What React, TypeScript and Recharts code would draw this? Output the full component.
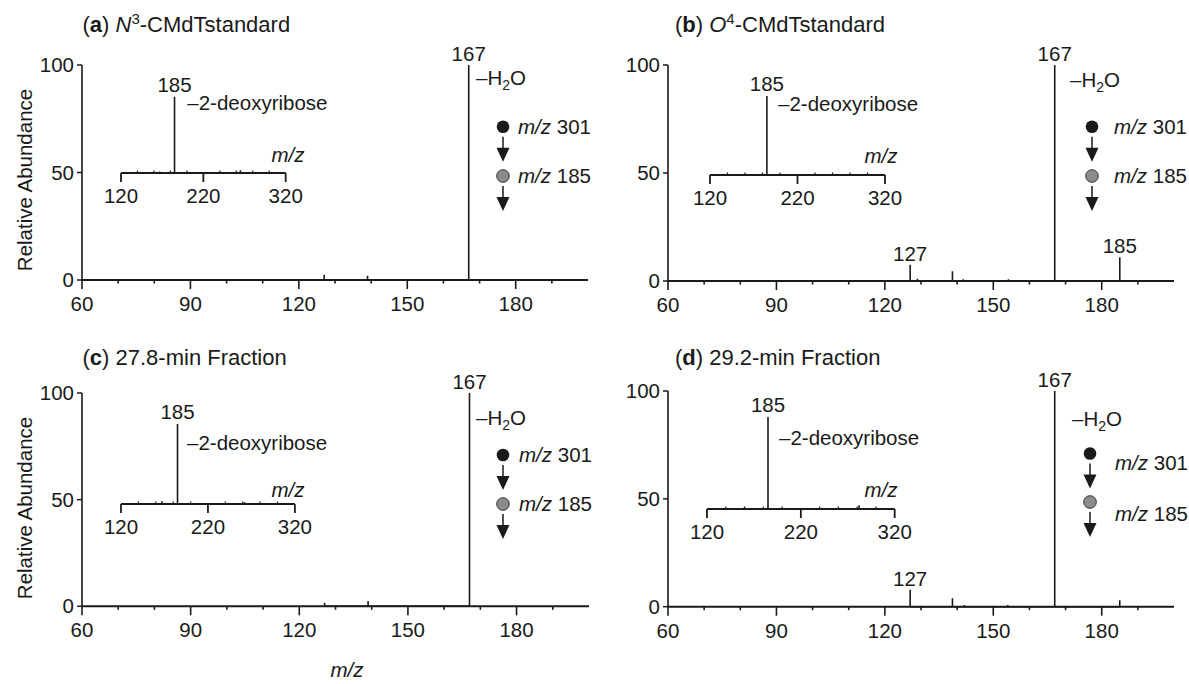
import { Line, LineChart, ReferenceDot, XAxis, YAxis } from "recharts";

const FONT = '"Liberation Sans", Arial, Helvetica, sans-serif';
const INK = "#1a1a1a";
const FS = 20.5;

// MS3 spectra (m/z 301 -> m/z 185 ->), relative abundance
const mzA = [127, 139, 167];
const relA = [2.5, 2, 100];
const mzB = [127, 129, 138.7, 141.7, 154.2, 167, 185];
const relB = [7.5, 1, 4.5, 0.8, 0.8, 100, 11];
const mzC = [127, 139, 167];
const relC = [1.5, 2.5, 100];
const mzD = [127, 138.7, 142, 154, 167, 185];
const relD = [7.8, 3.9, 0.8, 0.8, 100, 3];

const labelsA = [167];
const labelsB = [127, 167, 185];
const labelsC = [167];
const labelsD = [127, 167];

// MS2 insets (m/z 301 ->)
const insetMzA = [167, 185, 265];
const insetRelA = [1.5, 83, 3];
const insetMzB = [185, 250];
const insetRelB = [86, 1];
const insetMzC = [167, 185, 262];
const insetRelC = [3, 87, 2];
const insetMzD = [160, 185, 282];
const insetRelD = [2, 100, 4];

const mainTicks = [60, 70, 80, 90, 100, 110, 120, 130, 140, 150, 160, 170, 180, 190];
const majorTicks = [60, 90, 120, 150, 180];
const yTicks = [0, 50, 100];
const insetTicks = [120, 140, 160, 180, 200, 220, 240, 260, 280, 300, 320];
const insetMajor = [120, 220, 320];

function sticks(mz: number[], rel: number[]) {
  const rows: { mz: number; rel: number }[] = [];
  mz.forEach((m, i) => {
    rows.push({ mz: m, rel: 0 }, { mz: m, rel: rel[i] }, { mz: m, rel: 0 });
  });
  return rows;
}

function MainTick(props: any) {
  const { x, y, payload } = props;
  const major = majorTicks.includes(payload.value);
  return (
    <g>
      <line x1={x} x2={x} y1={y} y2={y + (major ? 9 : 3.5)} stroke={INK} strokeWidth={1.6} />
      {major && (
        <text x={x} y={y + 31} textAnchor="middle" fontSize={FS} fontFamily={FONT} fill={INK}>
          {payload.value}
        </text>
      )}
    </g>
  );
}

function YTick(props: any) {
  const { x, y, payload } = props;
  return (
    <g>
      <line x1={x - 5} x2={x} y1={y} y2={y} stroke={INK} strokeWidth={1.5} />
      <text x={x - 8} y={y + 7} textAnchor="end" fontSize={FS} fontFamily={FONT} fill={INK}>
        {payload.value}
      </text>
    </g>
  );
}

function InsetTick(props: any) {
  const { x, y, payload } = props;
  const major = insetMajor.includes(payload.value);
  if (!major) return <line x1={x} x2={x} y1={y} y2={y - 2.5} stroke={INK} strokeWidth={1.2} />;
  return (
    <g>
      <line x1={x} x2={x} y1={y} y2={y + 9} stroke={INK} strokeWidth={1.8} />
      <text x={x} y={y + 30} textAnchor="middle" fontSize={FS} fontFamily={FONT} fill={INK}>
        {payload.value}
      </text>
    </g>
  );
}

type SpectrumProps = {
  left: number;
  top: number;
  plotW: number;
  plotH: number;
  mz: number[];
  rel: number[];
  labels: number[];
};

function Spectrum({ left, top, plotW, plotH, mz, rel, labels }: SpectrumProps) {
  return (
    <div style={{ position: "absolute", left: left - 82, top: top - 65 }}>
      <LineChart
        width={plotW + 94}
        height={plotH + 115}
        data={sticks(mz, rel)}
        margin={{ top: 65, right: 12, bottom: 10, left: 32 }}
      >
        <XAxis
          dataKey="mz"
          type="number"
          domain={[60, 200]}
          ticks={mainTicks}
          interval={0}
          height={40}
          tickSize={0}
          tickMargin={0}
          tickLine={false}
          axisLine={{ stroke: INK, strokeWidth: 2 }}
          tick={MainTick}
        />
        <YAxis
          type="number"
          domain={[0, 100]}
          ticks={yTicks}
          interval={0}
          width={50}
          tickSize={0}
          tickMargin={0}
          tickLine={false}
          axisLine={{ stroke: INK, strokeWidth: 1.6 }}
          tick={YTick}
        />
        <Line
          dataKey="rel"
          type="linear"
          stroke={INK}
          strokeWidth={1.6}
          strokeLinejoin="bevel"
          dot={false}
          activeDot={false}
          isAnimationActive={false}
        />
        {labels.map((m) => (
          <ReferenceDot
            key={m}
            x={m}
            y={rel[mz.indexOf(m)]}
            r={0}
            ifOverflow="visible"
            label={{ value: String(m), position: "top", offset: 4, fill: INK, fontSize: FS, fontFamily: FONT }}
          />
        ))}
      </LineChart>
    </div>
  );
}

type InsetProps = { left: number; right: number; bottom: number; mz: number[]; rel: number[] };

function Inset({ left, right, bottom, mz, rel }: InsetProps) {
  const plotH = 92;
  const pad = 30;
  return (
    <div style={{ position: "absolute", left: left - pad, top: bottom - plotH - pad }}>
      <LineChart
        width={right - left + 2 * pad}
        height={plotH + pad + 45}
        data={sticks(mz, rel)}
        margin={{ top: pad, right: pad, bottom: 0, left: pad }}
      >
        <XAxis
          dataKey="mz"
          type="number"
          domain={[120, 320]}
          ticks={insetTicks}
          interval={0}
          height={45}
          tickSize={0}
          tickMargin={0}
          tickLine={false}
          axisLine={{ stroke: INK, strokeWidth: 2 }}
          tick={InsetTick}
        />
        <YAxis type="number" domain={[0, 100]} hide />
        <Line
          dataKey="rel"
          type="linear"
          stroke={INK}
          strokeWidth={1.6}
          strokeLinejoin="bevel"
          dot={false}
          activeDot={false}
          isAnimationActive={false}
        />
        <ReferenceDot
          x={185}
          y={rel[mz.indexOf(185)]}
          r={0}
          ifOverflow="visible"
          label={{ value: "185", position: "top", offset: 5, fill: INK, fontSize: FS, fontFamily: FONT }}
        />
      </LineChart>
    </div>
  );
}

function Arrow({ cx, cy }: { cx: number; cy: number }) {
  return (
    <g>
      <line x1={cx} x2={cx} y1={cy + 10} y2={cy + 22} stroke={INK} strokeWidth={1.5} />
      <polygon points={`${cx - 6.5},${cy + 21} ${cx + 6.5},${cy + 21} ${cx},${cy + 35}`} fill={INK} />
    </g>
  );
}

function Scheme({ cx, cy1, cy2, tx, dy1, dy2 }: { cx: number; cy1: number; cy2: number; tx: number; dy1: number; dy2: number }) {
  return (
    <g>
      <circle cx={cx} cy={cy1} r={6.3} fill={INK} />
      <Arrow cx={cx} cy={cy1} />
      <circle cx={cx} cy={cy2} r={6.3} fill="#8c8c8c" stroke="#333" strokeWidth={1} />
      <Arrow cx={cx} cy={cy2} />
      <text x={tx} y={cy1 + 7 + dy1}>
        <tspan fontStyle="italic">m/z</tspan>
        {" 301"}
      </text>
      <text x={tx} y={cy2 + 7 + dy2}>
        <tspan fontStyle="italic">m/z</tspan>
        {" 185"}
      </text>
    </g>
  );
}

function Water({ x, y }: { x: number; y: number }) {
  return (
    <text x={x} y={y}>
      –H
      <tspan dy={5} fontSize={14}>
        2
      </tspan>
      <tspan dy={-5}>O</tspan>
    </text>
  );
}

export default function App() {
  return (
    <div style={{ position: "absolute", left: 0, top: 0, width: 1189, height: 684, background: "#fff" }}>
      <Spectrum left={81.7} top={65} plotW={506} plotH={215} mz={mzA} rel={relA} labels={labelsA} />
      <Spectrum left={668.3} top={64.5} plotW={506} plotH={216} mz={mzB} rel={relB} labels={labelsB} />
      <Spectrum left={81.5} top={392.7} plotW={507} plotH={213.3} mz={mzC} rel={relC} labels={labelsC} />
      <Spectrum left={668} top={391} plotW={506} plotH={215.7} mz={mzD} rel={relD} labels={labelsD} />

      <Inset left={121} right={285.7} bottom={172.7} mz={insetMzA} rel={insetRelA} />
      <Inset left={709.8} right={884.8} bottom={175.3} mz={insetMzB} rel={insetRelB} />
      <Inset left={120.9} right={294.8} bottom={504} mz={insetMzC} rel={insetRelC} />
      <Inset left={706.7} right={894.4} bottom={509} mz={insetMzD} rel={insetRelD} />

      <svg
        width={1189}
        height={684}
        style={{ position: "absolute", left: 0, top: 0, pointerEvents: "none" }}
        fontFamily={FONT}
        fontSize={FS}
        fill={INK}
      >
        <g fontSize={22}>
          <text x={82.5} y={32}>
            {"("}
            <tspan fontWeight="bold">a</tspan>
            {") "}
            <tspan fontStyle="italic">N</tspan>
            <tspan fontSize={15} dy={-8}>
              3
            </tspan>
            <tspan dy={8}>-CMdTstandard</tspan>
          </text>
          <text x={675} y={32}>
            {"("}
            <tspan fontWeight="bold">b</tspan>
            {") "}
            <tspan fontStyle="italic">O</tspan>
            <tspan fontSize={15} dy={-8}>
              4
            </tspan>
            <tspan dy={8}>-CMdTstandard</tspan>
          </text>
          <text x={82.5} y={365}>
            {"("}
            <tspan fontWeight="bold">c</tspan>
            {") 27.8-min Fraction"}
          </text>
          <text x={675} y={365}>
            {"("}
            <tspan fontWeight="bold">d</tspan>
            {") 29.2-min Fraction"}
          </text>
        </g>

        <text transform="translate(32 180) rotate(-90)" textAnchor="middle">
          Relative Abundance
        </text>
        <text transform="translate(32 508) rotate(-90)" textAnchor="middle">
          Relative Abundance
        </text>
        <text x={347} y={677} textAnchor="middle" fontStyle="italic">
          m/z
        </text>

        <Water x={476} y={85} />
        <Water x={1070} y={87} />
        <Water x={476} y={425} />
        <Water x={1072} y={426} />

        <text x={187.3} y={110}>–2-deoxyribose</text>
        <text x={778} y={111}>–2-deoxyribose</text>
        <text x={187} y={450}>–2-deoxyribose</text>
        <text x={779} y={445}>–2-deoxyribose</text>

        <g fontStyle="italic" textAnchor="middle">
          <text x={288} y={162}>m/z</text>
          <text x={881} y={163}>m/z</text>
          <text x={288} y={497}>m/z</text>
          <text x={881} y={497}>m/z</text>
        </g>

        <Scheme cx={503} cy1={126.7} cy2={176} tx={518} dy1={0} dy2={0} />
        <Scheme cx={1092} cy1={126.7} cy2={176} tx={1114} dy1={0} dy2={0} />
        <Scheme cx={503} cy1={455} cy2={504} tx={519} dy1={0} dy2={0} />
        <Scheme cx={1090} cy1={453.5} cy2={502} tx={1115} dy1={9} dy2={12} />
      </svg>
    </div>
  );
}
